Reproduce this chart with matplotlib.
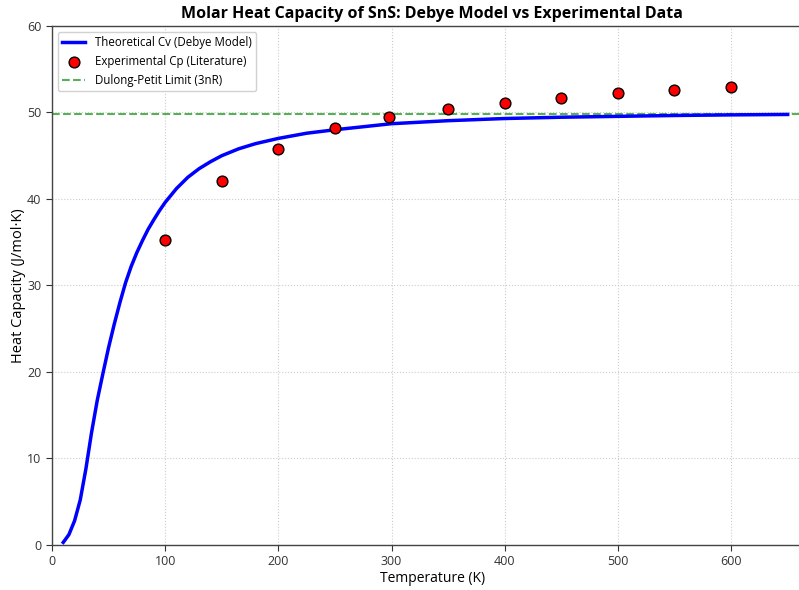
import matplotlib
matplotlib.use("Agg")
import matplotlib.pyplot as plt

plt.rcParams['font.family'] = ['Open Sans', 'Noto Sans', 'DejaVu Sans']

# Theoretical Debye curve
T_theory = [10, 15, 20, 25, 30, 35, 40, 45, 50, 55, 60, 65, 70, 75, 80, 85, 90,
            95, 100, 110, 120, 130, 140, 150, 165, 180, 200, 225, 250, 275, 300,
            350, 400, 450, 500, 550, 600, 650]
Cv_theory = [0.3, 1.2, 2.8, 5.2, 8.8, 13.0, 16.7, 19.8, 22.8, 25.5, 28.0, 30.3,
             32.2, 33.8, 35.2, 36.5, 37.6, 38.65, 39.6, 41.2, 42.5, 43.5, 44.3,
             45.0, 45.8, 46.4, 47.0, 47.6, 48.0, 48.35, 48.7, 49.05, 49.3,
             49.45, 49.55, 49.65, 49.72, 49.77]

# Experimental data
T_exp = [100, 150, 200, 250, 298, 350, 400, 450, 500, 550, 600]
Cp_exp = [35.2, 42.1, 45.8, 48.2, 49.5, 50.4, 51.1, 51.7, 52.2, 52.6, 53.0]

dulong_petit = 49.88

fig = plt.figure(figsize=(7.99, 5.90), dpi=100)
# axes extend slightly beyond the right edge of the canvas, as in the reference
ax = fig.add_axes([0.065, 0.0763, 0.952, 0.8797])

ax.plot(T_theory, Cv_theory, color='blue', linewidth=2.5,
        solid_joinstyle='round', label='Theoretical Cv (Debye Model)', zorder=3)
ax.scatter(T_exp, Cp_exp, s=60, color='red', edgecolors='black', linewidths=1,
           label='Experimental Cp (Literature)', zorder=4)
ax.axhline(dulong_petit, color='#3aa33a', linestyle='--', linewidth=1.5, alpha=0.85,
           label='Dulong-Petit Limit (3nR)', zorder=2)

ax.set_xlim(0, 672)
ax.set_ylim(0, 60)
ax.set_xticks([0, 100, 200, 300, 400, 500, 600])
ax.set_yticks([0, 10, 20, 30, 40, 50, 60])

ax.grid(True, linestyle=':', color='#cccccc', linewidth=0.8)
ax.set_axisbelow(True)
for s in ['left', 'bottom', 'top']:
    ax.spines[s].set_color('#444444')
    ax.spines[s].set_linewidth(1.0)
ax.spines['right'].set_visible(False)
ax.tick_params(colors='#333333', labelsize=9, length=4)

ax.set_xlabel('Temperature (K)', fontsize=10, labelpad=2)
ax.set_ylabel('Heat Capacity (J/mol·K)', fontsize=10.5, labelpad=1)
ax.set_title('Molar Heat Capacity of SnS: Debye Model vs Experimental Data',
             fontsize=11.5, fontweight='bold')

ax.legend(loc='upper left', bbox_to_anchor=(0.0, 1.0), fontsize=8.3, frameon=True,
          framealpha=0.9, edgecolor='#cccccc')

fig.savefig('out.png', dpi=100)
